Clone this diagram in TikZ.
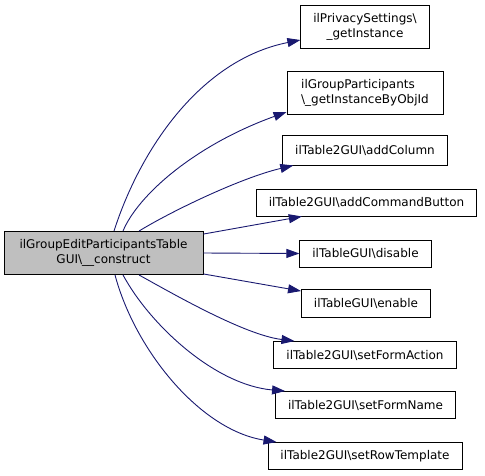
\documentclass[tikz,border=0pt]{standalone}
\usepackage{fontspec}
\setmainfont{DejaVu Sans}
\usetikzlibrary{calc,arrows.meta}

\definecolor{edgeblue}{RGB}{25,25,112}
\definecolor{mainfill}{RGB}{191,191,191}

\tikzset{
  fnbox/.style={draw=black,line width=0.9pt,fill=white,font=\fontsize{12}{15}\selectfont,
    inner xsep=12.5pt,inner ysep=0pt,minimum height=27pt,align=center},
  twoline/.style={minimum height=43pt},
  callarrow/.style={draw=edgeblue,line width=0.9pt,-{Triangle[length=13pt,width=9pt]}}
}

\begin{document}
\begin{tikzpicture}[x=1pt,y=-1pt]
\useasboundingbox (0,0) rectangle (485,475);

% Text Node
\node [fnbox,twoline,fill=mainfill,minimum width=199pt] (main) at (103.5,253) {ilGroupEditParticipantsTable\\GUI\textbackslash\_\_construct};
% Text Node
\node [fnbox,twoline] (priv) at (365,26.5) {ilPrivacySettings\textbackslash\\\_getInstance};
% Text Node
\node [fnbox,twoline,align=left,minimum width=156pt] (grp) at (365,92.5) {ilGroupParticipants\\\textbackslash\_getInstanceByObjId};
% Text Node
\node [fnbox,minimum height=30pt] (addcol) at (365,150) {ilTable2GUI\textbackslash addColumn};
% Text Node
\node [fnbox] (addcmd) at (366.5,202.5) {ilTable2GUI\textbackslash addCommandButton};
% Text Node
\node [fnbox] (dis) at (365.5,253.5) {ilTableGUI\textbackslash disable};
% Text Node
\node [fnbox,minimum height=28pt] (en) at (366,303.5) {ilTableGUI\textbackslash enable};
% Text Node
\node [fnbox] (sfa) at (365,355) {ilTable2GUI\textbackslash setFormAction};
% Text Node
\node [fnbox] (sfn) at (365.5,405) {ilTable2GUI\textbackslash setFormName};
% Text Node
\node [fnbox] (srt) at (365,456) {ilTable2GUI\textbackslash setRowTemplate};

% Edges
\draw [callarrow] ($(main.north)+(10.5,0)$) .. controls (140,150) and (200,60) .. ($(priv.west)+(0,13.5)$);
\draw [callarrow] ($(main.north)+(19.5,0)$) .. controls (138,195) and (195,145) .. ($(grp.west)+(0,19.5)$);
\draw [callarrow] ($(main.north)+(35.5,0)$) .. controls (170,212) and (240,178) .. ($(addcol.south west)+(11,0)$);
\draw [callarrow] ($(main.north east)+(0,3)$) -- ($(addcmd.south west)+(46,0)$);
\draw [callarrow] (main.east) -- (dis.west);
\draw [callarrow] ($(main.south east)+(0,-1)$) -- ($(en.north west)+(0,2)$);
\draw [callarrow] ($(main.south)+(35.5,0)$) .. controls (175,295) and (245,335) .. ($(sfa.north west)+(21,0)$);
\draw [callarrow] ($(main.south)+(19.5,0)$) .. controls (150,325) and (215,385) .. ($(sfn.north west)+(10,0)$);
\draw [callarrow] ($(main.south)+(11.5,0)$) .. controls (135,350) and (200,430) .. ($(srt.north west)+(9,0)$);

\end{tikzpicture}
\end{document}
